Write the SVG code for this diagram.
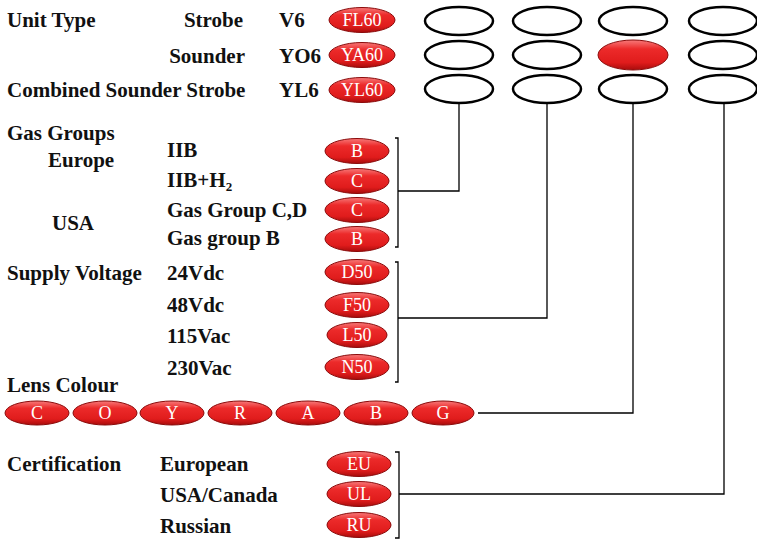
<svg xmlns="http://www.w3.org/2000/svg" width="757" height="540" viewBox="0 0 757 540">
<defs>
<linearGradient id="red" x1="0" y1="0" x2="0" y2="1">
<stop offset="0" stop-color="#f77a7a"/>
<stop offset="0.3" stop-color="#ec2a2a"/>
<stop offset="0.75" stop-color="#e01c1c"/>
<stop offset="1" stop-color="#a80c0c"/>
</linearGradient>
<style>
.lbl{font-family:"Liberation Serif","Times New Roman",serif;font-weight:bold;font-size:21px;fill:#111}
.pt{font-family:"Liberation Serif","Times New Roman",serif;font-size:18px;fill:#fff;text-anchor:middle}
.pill{fill:url(#red);stroke:#8a0a0a;stroke-width:1}
.slot{fill:#fff;stroke:#000;stroke-width:2.5}
.ln{fill:none;stroke:#000;stroke-width:1.3}
</style>
</defs>
<rect width="757" height="540" fill="#fff"/>
<g id="labels">
<text class="lbl" x="7" y="27">Unit Type</text>
<text class="lbl" x="243" y="27" text-anchor="end">Strobe</text>
<text class="lbl" x="245" y="63" text-anchor="end">Sounder</text>
<text class="lbl" x="7" y="97">Combined Sounder Strobe</text>
<text class="lbl" x="279" y="27">V6</text>
<text class="lbl" x="279" y="63">YO6</text>
<text class="lbl" x="279" y="97">YL6</text>
<text class="lbl" x="7" y="140">Gas Groups</text>
<text class="lbl" x="48" y="167">Europe</text>
<text class="lbl" x="52" y="230">USA</text>
<text class="lbl" x="167" y="157">IIB</text>
<text class="lbl" x="167" y="187">IIB+H<tspan font-size="13" dy="4">2</tspan></text>
<text class="lbl" x="167" y="217">Gas Group C,D</text>
<text class="lbl" x="167" y="245">Gas group B</text>
<text class="lbl" x="7" y="280">Supply Voltage</text>
<text class="lbl" x="167" y="280">24Vdc</text>
<text class="lbl" x="167" y="312">48Vdc</text>
<text class="lbl" x="167" y="343">115Vac</text>
<text class="lbl" x="167" y="375">230Vac</text>
<text class="lbl" x="7" y="392">Lens Colour</text>
<text class="lbl" x="7" y="471">Certification</text>
<text class="lbl" x="160" y="471">European</text>
<text class="lbl" x="160" y="502">USA/Canada</text>
<text class="lbl" x="160" y="533">Russian</text>
</g>
<g id="unit-type">
<ellipse class="pill" cx="362" cy="20" rx="33" ry="12.5"/><text class="pt" x="362" y="26">FL60</text>
<ellipse class="pill" cx="362" cy="55" rx="33" ry="12.5"/><text class="pt" x="362" y="61">YA60</text>
<ellipse class="pill" cx="362" cy="90" rx="33" ry="12.5"/><text class="pt" x="362" y="96">YL60</text>
</g>
<g id="code-slots">
<ellipse class="slot" cx="459" cy="21" rx="34" ry="14"/>
<ellipse class="slot" cx="547" cy="21" rx="34" ry="14"/>
<ellipse class="slot" cx="633" cy="21" rx="34" ry="14"/>
<ellipse class="slot" cx="723" cy="21" rx="34" ry="14"/>
<ellipse class="slot" cx="459" cy="55" rx="34" ry="14"/>
<ellipse class="slot" cx="547" cy="55" rx="34" ry="14"/>
<ellipse class="pill" cx="633" cy="55" rx="35" ry="15"/>
<ellipse class="slot" cx="723" cy="55" rx="34" ry="14"/>
<ellipse class="slot" cx="459" cy="89" rx="34" ry="14"/>
<ellipse class="slot" cx="547" cy="89" rx="34" ry="14"/>
<ellipse class="slot" cx="633" cy="89" rx="34" ry="14"/>
<ellipse class="slot" cx="723" cy="89" rx="34" ry="14"/>
</g>
<g id="gas-groups">
<ellipse class="pill" cx="357" cy="151" rx="32" ry="12.5"/><text class="pt" x="357" y="157">B</text>
<ellipse class="pill" cx="357" cy="181" rx="32" ry="12.5"/><text class="pt" x="357" y="187">C</text>
<ellipse class="pill" cx="357" cy="210" rx="32" ry="12.5"/><text class="pt" x="357" y="216">C</text>
<ellipse class="pill" cx="357" cy="239" rx="32" ry="12.5"/><text class="pt" x="357" y="245">B</text>
</g>
<g id="supply-voltage">
<ellipse class="pill" cx="357" cy="272" rx="32" ry="12.5"/><text class="pt" x="357" y="278">D50</text>
<ellipse class="pill" cx="357" cy="305" rx="32" ry="12.5"/><text class="pt" x="357" y="311">F50</text>
<ellipse class="pill" cx="357" cy="335" rx="30" ry="12.5"/><text class="pt" x="357" y="341">L50</text>
<ellipse class="pill" cx="357" cy="367" rx="32" ry="12.5"/><text class="pt" x="357" y="373">N50</text>
</g>
<g id="lens-colour">
<ellipse class="pill" cx="37" cy="413" rx="32" ry="12"/><text class="pt" x="37" y="419">C</text>
<ellipse class="pill" cx="105" cy="413" rx="32" ry="12"/><text class="pt" x="105" y="419">O</text>
<ellipse class="pill" cx="172" cy="413" rx="32" ry="12"/><text class="pt" x="172" y="419">Y</text>
<ellipse class="pill" cx="240" cy="413" rx="32" ry="12"/><text class="pt" x="240" y="419">R</text>
<ellipse class="pill" cx="308" cy="413" rx="32" ry="12"/><text class="pt" x="308" y="419">A</text>
<ellipse class="pill" cx="376" cy="413" rx="32" ry="12"/><text class="pt" x="376" y="419">B</text>
<ellipse class="pill" cx="443" cy="413" rx="31" ry="12"/><text class="pt" x="443" y="419">G</text>
</g>
<g id="certification">
<ellipse class="pill" cx="359" cy="464" rx="32" ry="12.5"/><text class="pt" x="359" y="470">EU</text>
<ellipse class="pill" cx="359" cy="494" rx="32" ry="12.5"/><text class="pt" x="359" y="500">UL</text>
<ellipse class="pill" cx="359" cy="525" rx="32" ry="12.5"/><text class="pt" x="359" y="531">RU</text>
</g>
<g id="connectors">
<path class="ln" d="M395,138 H398 V247 H395"/>
<path class="ln" d="M398,191 H459 V103"/>
<path class="ln" d="M395,262 H398 V382 H395"/>
<path class="ln" d="M398,318 H547 V103"/>
<path class="ln" d="M478,413 H633 V103"/>
<path class="ln" d="M395,452 H399 V538 H395"/>
<path class="ln" d="M399,494 H724 V103"/>
</g>
</svg>
